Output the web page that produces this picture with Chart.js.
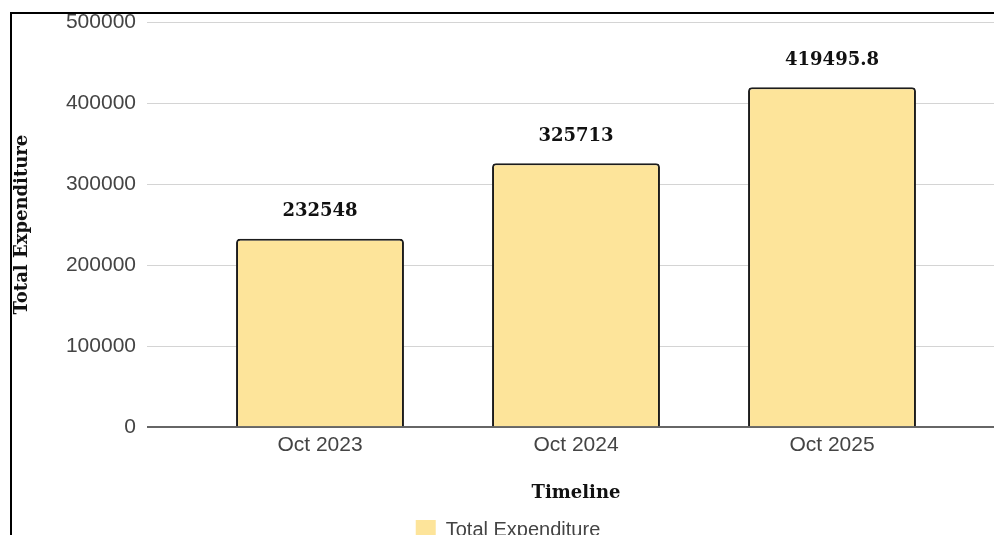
<!DOCTYPE html>
<html lang="en">
<head>
<meta charset="UTF-8">
<title>Total Expenditure</title>
<script src="https://cdn.jsdelivr.net/npm/chart.js"></script>
<style>
    html, body {
        margin: 0;
        padding: 0;
        overflow: hidden;
        background: #fff;
    }
    /* the chart sits in a framed box that is cut by the window */
    .frame {
        position: absolute;
        left: 10px;
        top: 12px;
        width: 1100px;
        height: 600px;
        border-left: 2px solid #000;
        border-top: 2px solid #000;
        overflow: hidden;
    }
    #chart {
        display: block;
        margin-top: -20px;
    }
</style>
</head>
<body>
<div class="frame">
    <canvas id="chart" width="992" height="570"></canvas>
</div>

<script>
    const timeline = ['Oct 2023', 'Oct 2024', 'Oct 2025'];
    const expenditure = [232548, 325713, 419495.8];
    const yMin = 0;
    const yMax = 500000;
    const yStep = 100000;

    const barFill = 'rgb(253, 228, 154)';
    const barBorder = '#1c1c1c';
    const gridColor = '#d4d4d4';
    const zeroColor = '#666';
    const sansFont = "'Liberation Sans', Arial, sans-serif";
    const serifFont = "'DejaVu Serif', Georgia, serif";

    const lineColor = ctx => (ctx.tick && ctx.tick.value === 0) ? zeroColor : gridColor;
    const lineWidth = ctx => (ctx.tick && ctx.tick.value === 0) ? 2 : 1;

    // value labels above each bar
    const valueLabels = {
        id: 'valueLabels',
        afterDatasetsDraw(chart) {
            const c = chart.ctx;
            const meta = chart.getDatasetMeta(0);
            c.save();
            c.font = 'bold 18px ' + serifFont;
            c.fillStyle = '#111';
            c.textAlign = 'center';
            c.textBaseline = 'middle';
            meta.data.forEach((bar, i) => {
                c.fillText(String(expenditure[i]), bar.x, bar.y - 27);
            });
            c.restore();
        }
    };

    new Chart(document.getElementById('chart'), {
        type: 'bar',
        data: {
            labels: timeline,
            datasets: [{
                label: 'Total Expenditure',
                data: expenditure,
                backgroundColor: barFill,
                borderColor: barBorder,
                borderWidth: 2,
                borderRadius: { topLeft: 4, topRight: 4 },
                borderSkipped: 'bottom',
                barPercentage: 0.82,
                categoryPercentage: 0.8
            }]
        },
        options: {
            responsive: false,
            animation: false,
            layout: { padding: { top: 28, left: 0, right: 0, bottom: 14 } },
            scales: {
                x: {
                    grid: { display: false, drawTicks: false },
                    border: { display: false },
                    ticks: {
                        color: '#444',
                        font: { size: 21, family: sansFont },
                        padding: 5
                    },
                    title: {
                        display: true,
                        text: 'Timeline',
                        color: '#111',
                        font: { size: 18, weight: 'bold', family: serifFont },
                        padding: { top: 20, bottom: 6 }
                    }
                },
                y: {
                    min: yMin,
                    max: yMax,
                    grid: { color: lineColor, tickColor: lineColor, lineWidth: lineWidth, tickLength: 45 },
                    border: { display: false },
                    ticks: {
                        stepSize: yStep,
                        color: '#444',
                        font: { size: 21, family: sansFont },
                        padding: 11,
                        callback: v => String(v)
                    },
                    title: {
                        display: true,
                        text: 'Total Expenditure',
                        color: '#111',
                        font: { size: 18, weight: 'bold', family: serifFont },
                        padding: { top: 0, bottom: 4 }
                    },
                    afterFit(scale) { scale.width = 180; }
                },
                y2: {
                    axis: 'y',
                    position: 'right',
                    min: yMin,
                    max: yMax,
                    grid: { drawOnChartArea: false, color: lineColor, tickColor: lineColor, lineWidth: lineWidth, tickLength: 44 },
                    border: { display: false },
                    ticks: { stepSize: yStep, display: false }
                }
            },
            plugins: {
                legend: {
                    position: 'bottom',
                    labels: {
                        boxWidth: 20,
                        color: '#444',
                        font: { size: 20, family: sansFont },
                        generateLabels(chart) {
                            const items = Chart.defaults.plugins.legend.labels.generateLabels(chart);
                            items.forEach(it => { it.lineWidth = 0; it.strokeStyle = barFill; });
                            return items;
                        }
                    }
                },
                tooltip: { enabled: false }
            }
        },
        plugins: [valueLabels]
    });
</script>
</body>
</html>
